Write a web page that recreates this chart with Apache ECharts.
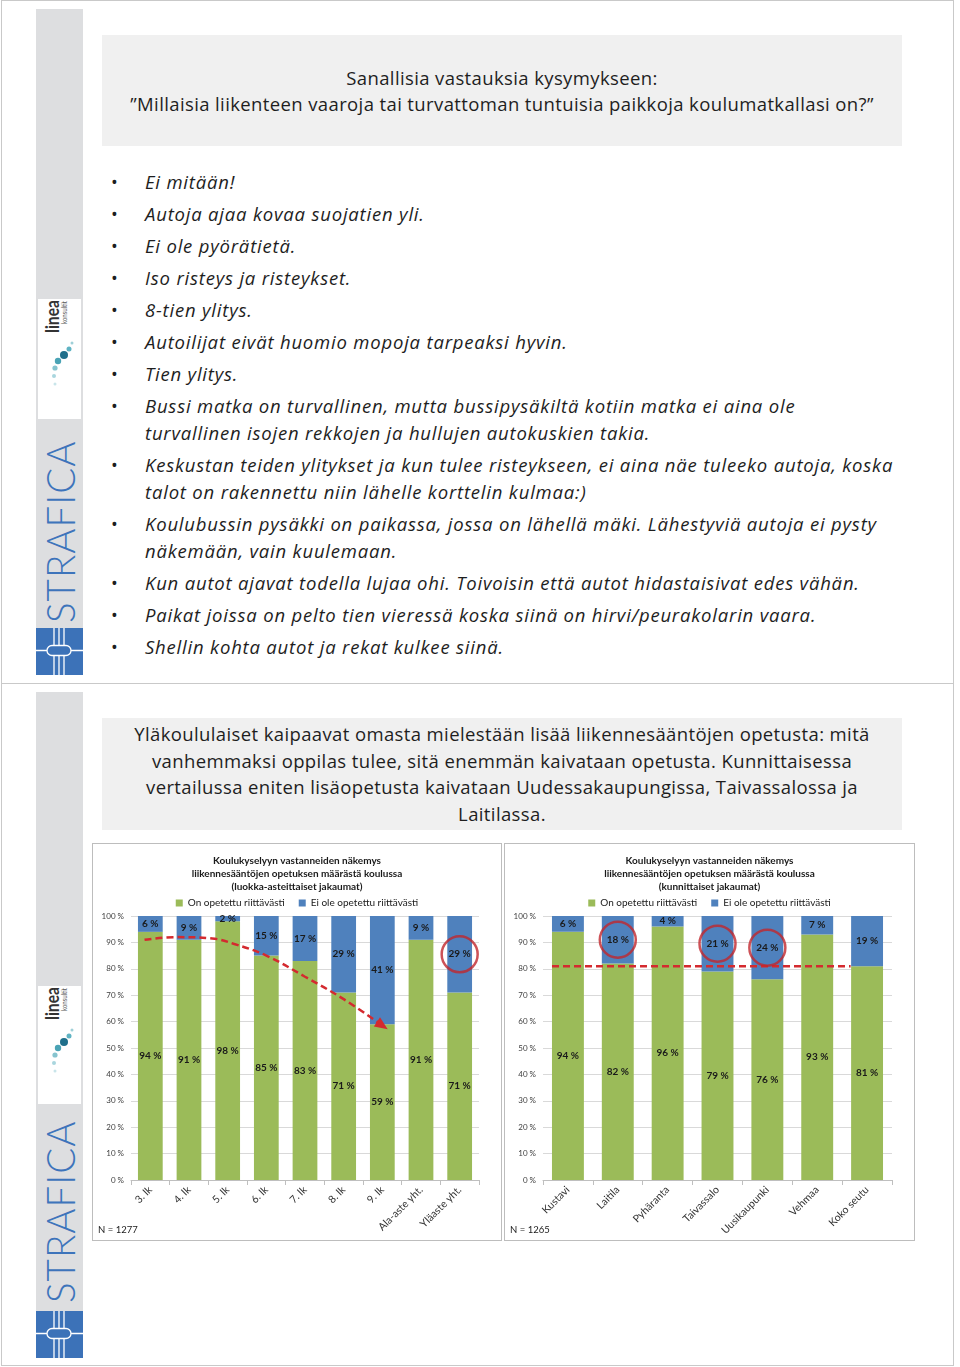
<!DOCTYPE html>
<html><head><meta charset="utf-8">
<script src="https://cdn.jsdelivr.net/npm/echarts@6/dist/echarts.min.js"></script>
<style>
html,body{margin:0;padding:0;background:#fff;}
body{width:960px;height:1367px;position:relative;overflow:hidden;font-family:'Open Sans','Noto Sans',sans-serif;color:#1e1e1e;}
.abs{position:absolute;}
.frame{left:1px;top:0;width:951px;height:1364px;border:1px solid #c9c9c9;}
.sep{left:1px;top:683px;width:953px;height:1px;background:#c9c9c9;}
.side{left:36px;width:47px;background:#dddee0;}
.linea{left:38px;width:43px;background:#fff;}
.box{left:102px;width:800px;background:#f0f0f0;}
.tl{left:102px;width:800px;text-align:center;white-space:nowrap;font-size:18.5px;letter-spacing:0.38px;line-height:26px;}
.bl{left:145px;white-space:nowrap;font-style:italic;font-size:18.5px;letter-spacing:0.8px;line-height:26px;}
.bu{left:111px;font-size:18px;line-height:26px;}
.strafica{font-family:Lato,sans-serif;font-size:38.5px;font-weight:300;color:#3d74bb;letter-spacing:1px;white-space:nowrap;transform:rotate(-90deg);transform-origin:center center;}
.chart{border:1px solid #bdbdbd;box-sizing:border-box;background:#fff;}
</style></head>
<body>
<div class="abs frame"></div>
<div class="abs sep"></div>

<!-- slide 1 sidebar -->
<div class="abs side" style="top:9px;height:666px;"></div>
<div class="abs linea" style="top:299px;height:120px;" id="lin1"></div>
<div class="abs" style="left:-30px;top:513px;width:180px;height:40px;text-align:center;line-height:40px;"><div class="strafica">STRAFICA</div></div>
<div class="abs" style="left:36px;top:628px;width:47px;height:47px;" id="logo1"></div>

<!-- slide 2 sidebar -->
<div class="abs side" style="top:692px;height:666px;"></div>
<div class="abs linea" style="top:986px;height:118px;" id="lin2"></div>
<div class="abs" style="left:-30px;top:1193px;width:180px;height:40px;text-align:center;line-height:40px;"><div class="strafica">STRAFICA</div></div>
<div class="abs" style="left:36px;top:1311px;width:47px;height:47px;" id="logo2"></div>

<!-- slide 1 content -->
<div class="abs box" style="top:35px;height:111px;"></div>
<div class="abs tl" style="top:65px;">Sanallisia vastauksia kysymykseen:</div>
<div class="abs tl" style="top:91px;">”Millaisia liikenteen vaaroja tai turvattoman tuntuisia paikkoja koulumatkallasi on?”</div>
<div id="bullets"></div>

<!-- slide 2 content -->
<div class="abs box" style="top:718px;height:112px;"></div>
<div class="abs tl" style="top:721px;">Yläkoululaiset kaipaavat omasta mielestään lisää liikennesääntöjen opetusta: mitä</div>
<div class="abs tl" style="top:748px;">vanhemmaksi oppilas tulee, sitä enemmän kaivataan opetusta. Kunnittaisessa</div>
<div class="abs tl" style="top:774px;">vertailussa eniten lisäopetusta kaivataan Uudessakaupungissa, Taivassalossa ja</div>
<div class="abs tl" style="top:801px;">Laitilassa.</div>

<div class="abs chart" id="c1" style="left:92px;top:843px;width:410px;height:398px;"></div>
<div class="abs chart" id="c2" style="left:504px;top:843px;width:411px;height:398px;"></div>

<script>
// ---------- data ----------
const bulletTexts = [
  ['Ei mitään!'],
  ['Autoja ajaa kovaa suojatien yli.'],
  ['Ei ole pyörätietä.'],
  ['Iso risteys ja risteykset.'],
  ['8-tien ylitys.'],
  ['Autoilijat eivät huomio mopoja tarpeaksi hyvin.'],
  ['Tien ylitys.'],
  ['Bussi matka on turvallinen, mutta bussipysäkiltä kotiin matka ei aina ole', 'turvallinen isojen rekkojen ja hullujen autokuskien takia.'],
  ['Keskustan teiden ylitykset ja kun tulee risteykseen, ei aina näe tuleeko autoja, koska', 'talot on rakennettu niin lähelle korttelin kulmaa:)'],
  ['Koulubussin pysäkki on paikassa, jossa on lähellä mäki. Lähestyviä autoja ei pysty', 'näkemään, vain kuulemaan.'],
  ['Kun autot ajavat todella  lujaa ohi. Toivoisin että autot  hidastaisivat edes vähän.'],
  ['Paikat joissa on pelto tien vieressä koska siinä on hirvi/peurakolarin vaara.'],
  ['Shellin kohta autot ja rekat kulkee siinä.']
];

const seriesNames = ['On opetettu riittävästi', 'Ei ole opetettu riittävästi'];

const leftCats = ['3. lk','4. lk','5. lk','6. lk','7. lk','8. lk','9. lk','Ala-aste yht.','Yläaste yht.'];
const leftOn   = [94, 91, 98, 85, 83, 71, 59, 91, 71];
const leftEi   = [6, 9, 2, 15, 17, 29, 41, 9, 29];
const leftCircled = ['Yläaste yht.'];
const leftTrend = [[-0.15, 91], [0.66, 92], [1.6, 91.5], [2.15, 89.5], [3.0, 85], [4.0, 77], [5.0, 68.5], [6.0, 58.5]];

const rightCats = ['Kustavi','Laitila','Pyhäranta','Taivassalo','Uusikaupunki','Vehmaa','Koko seutu'];
const rightOn   = [94, 82, 96, 79, 76, 93, 81];
const rightEi   = [6, 18, 4, 21, 24, 7, 19];
const rightCircled = ['Laitila','Taivassalo','Uusikaupunki'];
const rightRef = [[-0.32, 81], [5.67, 81]];

// ---------- slide text ----------
(function(){
  const host = document.getElementById('bullets');
  let y = 169;
  bulletTexts.forEach(lines => {
    const b = document.createElement('div');
    b.className = 'abs bu'; b.style.top = y + 'px'; b.textContent = '•';
    host.appendChild(b);
    lines.forEach((t, k) => {
      const d = document.createElement('div');
      d.className = 'abs bl'; d.style.top = (y + k * 27) + 'px'; d.textContent = t;
      host.appendChild(d);
    });
    y += 32 + (lines.length - 1) * 27;
  });
})();

// ---------- logos ----------
function lineaSVG(){
  return '<svg width="43" height="120" xmlns="http://www.w3.org/2000/svg">' +
    '<text transform="translate(21,34) rotate(-90)" font-family="Lato,sans-serif" font-weight="bold" font-size="19" textLength="33" lengthAdjust="spacingAndGlyphs" fill="#333">linea</text>' +
    '<text transform="translate(29,25) rotate(-90)" font-family="Lato,sans-serif" font-size="8" textLength="23" lengthAdjust="spacingAndGlyphs" fill="#555">konsultit</text>' +
    '<circle cx="34" cy="44" r="1.5" fill="#9fd0d8"/>' +
    '<circle cx="31" cy="50" r="2.5" fill="#5fb3c3"/>' +
    '<circle cx="26" cy="56" r="4" fill="#1f6f8b"/>' +
    '<circle cx="20" cy="62" r="3.2" fill="#4aa3b5"/>' +
    '<circle cx="17" cy="69" r="2.6" fill="#86c4cf"/>' +
    '<circle cx="16" cy="77" r="2" fill="#a9d6de"/>' +
    '<circle cx="17" cy="85" r="1.5" fill="#c9e5ea"/>' +
    '</svg>';
}
function blueLogo(){
  return '<svg width="47" height="47" xmlns="http://www.w3.org/2000/svg">' +
    '<rect width="47" height="47" fill="#3c72b8"/>' +
    '<g stroke="#fff" stroke-width="1.3" fill="none">' +
    '<line x1="18" y1="0" x2="18" y2="47"/><line x1="23" y1="0" x2="23" y2="47"/><line x1="28" y1="0" x2="28" y2="47"/>' +
    '<line x1="0" y1="22.5" x2="47" y2="22.5"/>' +
    '<rect x="11" y="17.5" width="24" height="10" rx="5" fill="#3c72b8"/>' +
    '</g></svg>';
}
['lin1','lin2'].forEach(id => document.getElementById(id).innerHTML = lineaSVG());
['logo1','logo2'].forEach(id => document.getElementById(id).innerHTML = blueLogo());

// ---------- charts ----------
const FONT = 'Lato, "Noto Sans", sans-serif';
const GREEN = '#9bbb59', BLUE = '#4f81bd', RED = '#d42a2f', RED2 = '#c0272d';

function makeChart(el, cats, on, ei, circled, lineData, subtitle, n, arrow){
  const chart = echarts.init(el, null, {renderer:'canvas'});
  const lbl = {show:true, position:'inside', formatter:'{c} %', fontSize:10, fontWeight:'bold', color:'#1a1a1a', fontFamily:FONT};
  const trend = lineData.map((p, i) => {
    if (arrow && i === lineData.length - 1) {
      return {value:p, symbol:'triangle', symbolSize:[11,13], symbolRotate:-124, itemStyle:{color:RED}};
    }
    return {value:p, symbol:'none'};
  });
  chart.setOption({
    animation:false,
    textStyle:{fontFamily:FONT},
    title:{
      left:'center', top:5,
      text:'{b|Koulukyselyyn vastanneiden näkemys}\n{b|liikennesääntöjen opetuksen määrästä koulussa}\n{n|' + subtitle + '}',
      textStyle:{rich:{
        b:{fontSize:10, fontWeight:'bold', color:'#1a1a1a', lineHeight:13, fontFamily:FONT},
        n:{fontSize:10, color:'#1a1a1a', lineHeight:13, fontFamily:FONT}
      }}
    },
    legend:{top:49, left:'center', itemWidth:7, itemHeight:7, itemGap:14, icon:'rect',
      textStyle:{fontSize:10, color:'#1a1a1a', fontFamily:FONT}, data:seriesNames},
    grid:{left:38, right:22, top:72, bottom:60},
    xAxis:[
      {type:'category', data:cats, axisLine:{lineStyle:{color:'#bfbfbf'}},
        axisTick:{show:true, length:5, lineStyle:{color:'#bfbfbf'}},
        axisLabel:{rotate:45, fontSize:10.5, color:'#333', margin:8, interval:0, fontFamily:FONT}},
      {type:'value', min:-0.5, max:cats.length - 0.5, show:false}
    ],
    yAxis:{type:'value', min:0, max:100, interval:10,
      axisLabel:{formatter:'{value} %', fontSize:8, color:'#404040', margin:7, fontFamily:FONT},
      splitLine:{lineStyle:{color:'#d9d9d9'}}, axisLine:{show:false}, axisTick:{show:false}},
    series:[
      {name:seriesNames[0], type:'bar', stack:'s', data:on, barWidth:'64%', itemStyle:{color:GREEN}, label:lbl},
      {name:seriesNames[1], type:'bar', stack:'s', data:ei, barWidth:'64%', itemStyle:{color:BLUE}, label:lbl},
      {type:'line', xAxisIndex:1, data:trend, smooth:arrow ? 0.4 : false, symbol:'none', showAllSymbol:true,
        lineStyle:{color:RED, width:2.5, type:[7,4]}, silent:true, z:4},
      {type:'scatter', data:circled.map(c => { const i = cats.indexOf(c); return [c, on[i] + ei[i] / 2]; }),
        symbol:'circle', symbolSize:36, itemStyle:{color:'rgba(0,0,0,0)', borderColor:RED2, borderWidth:2.5}, silent:true, z:5}
    ],
    graphic:[{type:'text', left:5, bottom:5, style:{text:'N = ' + n, fontSize:9.5, fill:'#1a1a1a', fontFamily:FONT}}]
  });
}
makeChart(document.getElementById('c1'), leftCats, leftOn, leftEi, leftCircled, leftTrend, '(luokka-asteittaiset jakaumat)', 1277, true);
makeChart(document.getElementById('c2'), rightCats, rightOn, rightEi, rightCircled, rightRef, '(kunnittaiset jakaumat)', 1265, false);
</script>
</body></html>
